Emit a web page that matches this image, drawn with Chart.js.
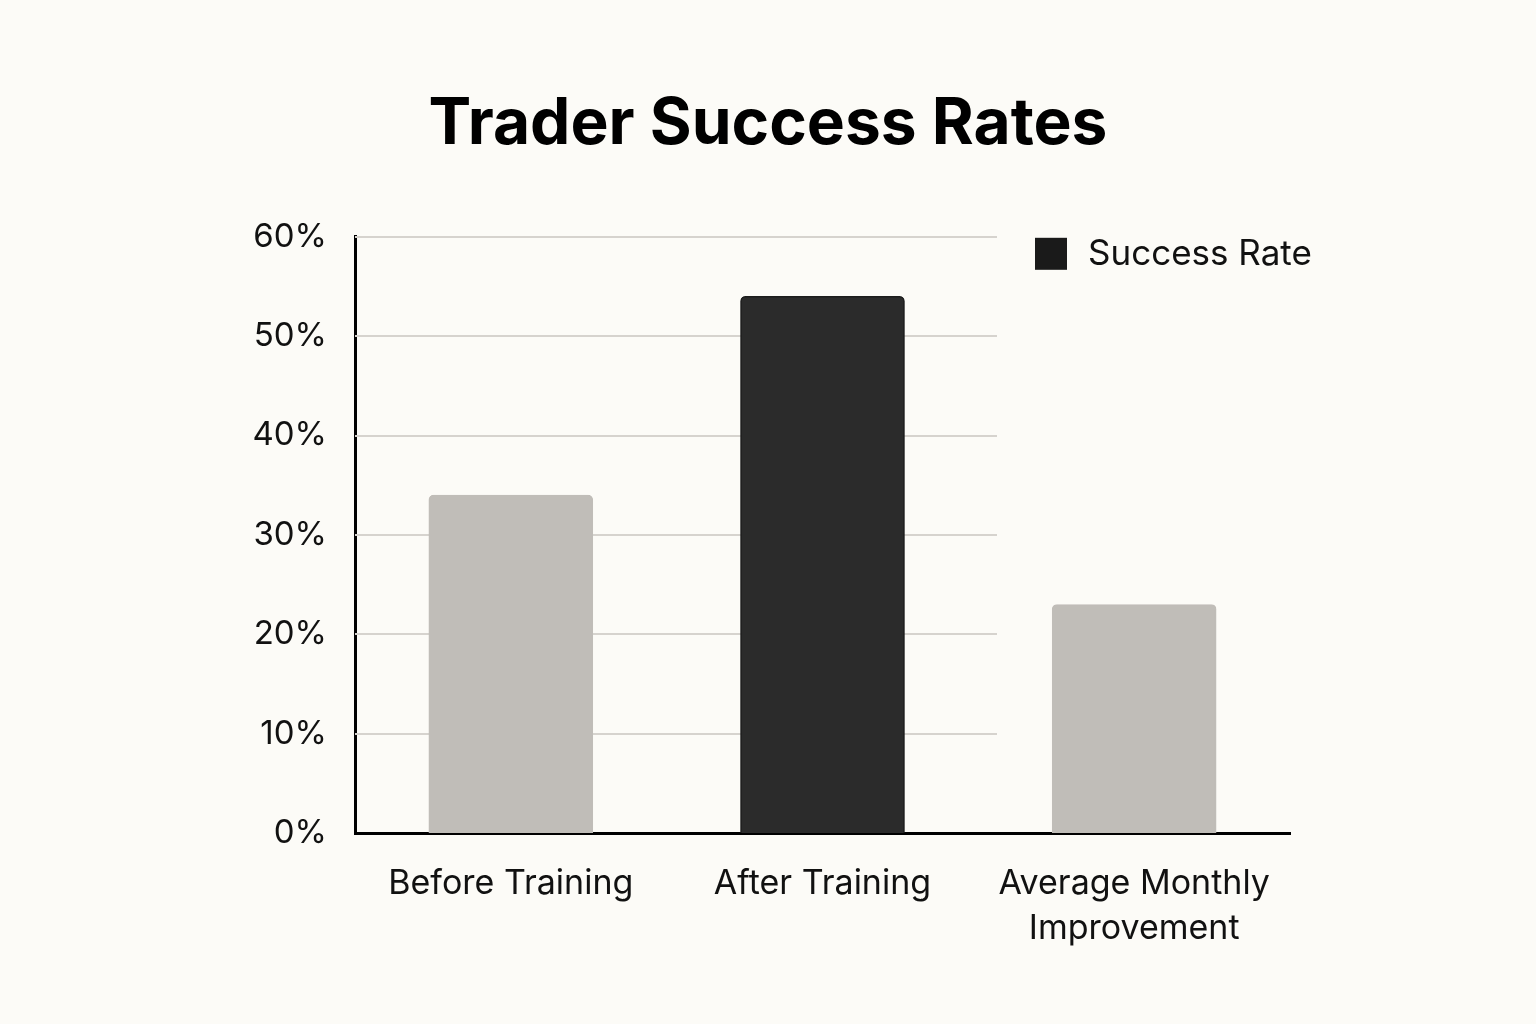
<!DOCTYPE html>
<html>
<head>
<meta charset="utf-8">
<script src="https://cdn.jsdelivr.net/npm/chart.js@4"></script>
<style>
  html, body { margin: 0; padding: 0; background: #fcfbf7; }
  #wrap { width: 1536px; height: 1024px; }
</style>
</head>
<body>
<div id="wrap"><canvas id="successChart"></canvas></div>
<script>
const categories = ['Before Training', 'After Training', ['Average Monthly', 'Improvement']];
const successRates = [34, 54, 23];
const barColors = ['#c0bdb8', '#2b2b2b', '#c0bdb8'];
const barBorders = ['#c0bdb8', '#1c1c1c', '#c0bdb8'];
const seriesLabel = 'Success Rate';
const legendColor = '#1a1a1a';
const yTicks = [0, 10, 20, 30, 40, 50, 60];

const FONT = 'Inter, "Noto Sans", sans-serif';
const GRID_END = 997;

// gridlines stop short of the legend, so draw them here from the y scale
const shortGrid = {
    id: 'shortGrid',
    beforeDatasetsDraw(chart) {
        const { ctx, chartArea, scales } = chart;
        ctx.save();
        ctx.strokeStyle = '#d6d3ce';
        ctx.lineWidth = 2;
        yTicks.forEach(v => {
            if (v === 0) return;
            const y = Math.round(scales.y.getPixelForValue(v));
            ctx.beginPath();
            ctx.moveTo(chartArea.left, y);
            ctx.lineTo(GRID_END, y);
            ctx.stroke();
        });
        ctx.restore();
    }
};

const cornerLegend = {
    id: 'cornerLegend',
    afterDraw(chart) {
        const { ctx, chartArea } = chart;
        const x = GRID_END + 38;
        const y = chartArea.top + 1;
        ctx.save();
        ctx.fillStyle = legendColor;
        ctx.fillRect(x, y, 32, 32);
        ctx.fillStyle = '#111';
        ctx.font = '35px ' + FONT;
        ctx.textBaseline = 'middle';
        ctx.fillText(seriesLabel, x + 53, y + 17);
        ctx.restore();
    }
};

const ctx = document.getElementById('successChart');
new Chart(ctx.getContext('2d'), {
    type: 'bar',
    data: {
        labels: categories,
        datasets: [{
            label: seriesLabel,
            data: successRates,
            backgroundColor: barColors,
            borderColor: barBorders,
            borderWidth: 1.5,
            borderSkipped: 'bottom',
            borderRadius: { topLeft: 5, topRight: 5, bottomLeft: 0, bottomRight: 0 },
            barThickness: 164
        }]
    },
    options: {
        responsive: true,
        maintainAspectRatio: false,
        animation: false,
        layout: {
            padding: 0
        },
        plugins: {
            legend: { display: false },
            tooltip: { enabled: false },
            title: {
                display: true,
                text: 'Trader Success Rates',
                color: '#000',
                font: { family: FONT, size: 64, weight: '700' },
                padding: { top: 86, bottom: 74 }
            }
        },
        scales: {
            y: {
                min: 0,
                max: 60,
                afterFit: scale => { scale.width = 355; },
                afterBuildTicks: scale => { scale.ticks = yTicks.map(v => ({ value: v })); },
                grid: { display: false, drawTicks: false },
                border: { display: true, color: '#000', width: 3 },
                ticks: {
                    padding: 28,
                    color: '#111',
                    font: { family: FONT, size: 33 },
                    callback: v => v + '%'
                }
            },
            // empty right-hand strip so the title centres on the whole page
            spacer: {
                type: 'linear',
                position: 'right',
                display: true,
                afterFit: scale => { scale.width = 246; },
                grid: { display: false, drawTicks: false },
                border: { display: false },
                ticks: { display: false }
            },
            x: {
                afterFit: scale => { scale.height = 191; },
                grid: { display: false, drawTicks: false },
                border: { display: true, color: '#000', width: 3 },
                ticks: {
                    padding: 28,
                    color: '#111',
                    maxRotation: 0,
                    autoSkip: false,
                    font: { family: FONT, size: 34, lineHeight: 1.32 }
                }
            }
        }
    },
    plugins: [shortGrid, cornerLegend]
});
</script>
</body>
</html>
